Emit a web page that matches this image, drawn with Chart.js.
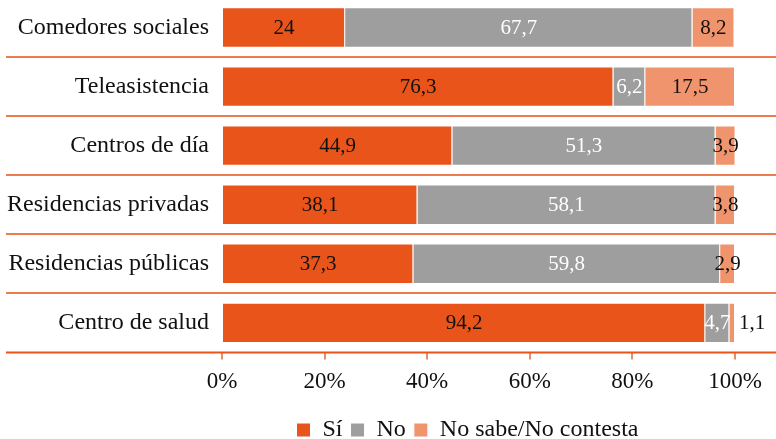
<!DOCTYPE html>
<html>
<head>
<meta charset="utf-8">
<script src="https://cdn.jsdelivr.net/npm/chart.js"></script>
<style>
    html, body { margin: 0; padding: 0; background: #fff; overflow: hidden; }
    #wrap { position: relative; width: 776px; height: 449px; margin-top: -2px; }
</style>
</head>
<body>
<div id="wrap">
    <canvas id="servChart"></canvas>
</div>

<script>
    const categories = ['Comedores sociales', 'Teleasistencia', 'Centros de día',
        'Residencias privadas', 'Residencias públicas', 'Centro de salud'];
    const si = [24, 76.3, 44.9, 38.1, 37.3, 94.2];
    const no = [67.7, 6.2, 51.3, 58.1, 59.8, 4.7];
    const nsnc = [8.2, 17.5, 3.9, 3.8, 2.9, 1.1];
    const xTicks = [0, 20, 40, 60, 80, 100];

    const serif = '"Liberation Serif", "Times New Roman", serif';
    const labelColors = ['#111111', '#ffffff', '#111111'];

    const separators = {
        id: 'separators',
        beforeDatasetsDraw(chart) {
            const ctx = chart.ctx;
            const y = chart.scales.y;
            const area = chart.chartArea;
            ctx.save();
            ctx.lineWidth = 2;
            ctx.strokeStyle = '#EC7B4F';
            for (let i = 0; i < categories.length - 1; i++) {
                const py = Math.round((y.getPixelForValue(i) + y.getPixelForValue(i + 1)) / 2);
                ctx.beginPath();
                ctx.moveTo(6, py);
                ctx.lineTo(chart.width, py);
                ctx.stroke();
            }
            ctx.strokeStyle = '#E8541A';
            ctx.beginPath();
            ctx.moveTo(6, area.bottom);
            ctx.lineTo(chart.width, area.bottom);
            ctx.stroke();
            ctx.restore();
        },
        afterLayout(chart) {
            // legend sits right of the canvas centre and a bit lower
            chart.legend.left += 100;
            chart.legend.right += 100;
            chart.legend.top += 5;
            chart.legend.bottom += 5;
        }
    };

    const valueLabels = {
        id: 'valueLabels',
        afterDatasetsDraw(chart) {
            const ctx = chart.ctx;
            ctx.save();
            ctx.font = '21px ' + serif;
            ctx.textBaseline = 'middle';
            ctx.textAlign = 'center';
            chart.data.datasets.forEach((ds, di) => {
                chart.getDatasetMeta(di).data.forEach((bar, i) => {
                    const v = ds.data[i];
                    const txt = String(v).replace('.', ',');
                    if (v < 2) {
                        ctx.fillStyle = '#111111';
                        ctx.fillText(txt, bar.x + 17, bar.y + 1);
                    } else {
                        ctx.fillStyle = labelColors[di];
                        ctx.fillText(txt, (bar.x + bar.base) / 2, bar.y + 1);
                    }
                });
            });
            ctx.restore();
        }
    };

    const ctxServ = document.getElementById('servChart');
    new Chart(ctxServ, {
        type: 'bar',
        data: {
            labels: categories,
            datasets: [
                { label: 'Sí', data: si, backgroundColor: '#E8541A' },
                { label: 'No', data: no, backgroundColor: '#9E9E9F' },
                { label: 'No sabe/No contesta', data: nsnc, backgroundColor: '#F0946D' }
            ]
        },
        options: {
            indexAxis: 'y',
            responsive: true,
            maintainAspectRatio: false,
            animation: false,
            datasets: {
                bar: {
                    barPercentage: 0.9,
                    categoryPercentage: 0.76,
                    borderWidth: 1,
                    borderColor: '#ffffff'
                }
            },
            layout: { padding: { left: 0, right: 41, top: 0, bottom: 0 } },
            scales: {
                x: {
                    stacked: true,
                    min: 0,
                    max: 100,
                    afterBuildTicks: (scale) => { scale.ticks = xTicks.map(v => ({ value: v })); },
                    ticks: {
                        callback: (v) => v + '%',
                        color: '#111111',
                        padding: 9,
                        maxRotation: 0,
                        font: { family: serif, size: 23 }
                    },
                    grid: {
                        drawOnChartArea: false,
                        drawTicks: true,
                        tickLength: 7,
                        lineWidth: 2,
                        color: '#EE8B64'
                    },
                    border: { display: false }
                },
                y: {
                    stacked: true,
                    afterFit: (scale) => {
                        scale.width = 222;
                        scale.paddingTop = 0;
                        scale.paddingBottom = 0;
                    },
                    ticks: {
                        color: '#111111',
                        padding: 13,
                        font: { family: serif, size: 24 }
                    },
                    grid: { display: false, drawTicks: false, tickLength: 0 },
                    border: { display: false }
                }
            },
            plugins: {
                legend: {
                    position: 'bottom',
                    labels: {
                        boxWidth: 14,
                        boxHeight: 14,
                        padding: 8,
                        color: '#111111',
                        font: { family: serif, size: 24 }
                    }
                },
                tooltip: { enabled: false }
            }
        },
        plugins: [separators, valueLabels]
    });
</script>
</body>
</html>
